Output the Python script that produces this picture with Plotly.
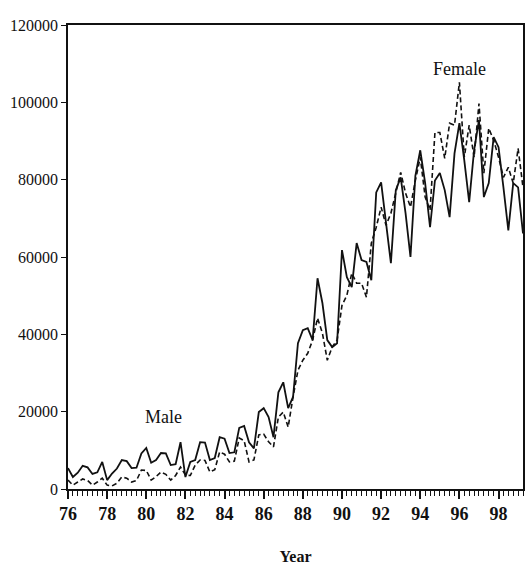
import plotly.graph_objects as go

# Quarterly series, 1976Q1 .. 1999Q2
start_year = 76
male = [
    5400, 3100, 4200, 6000,      # 76
    5600, 3900, 4300, 7000,      # 77
    2300, 4000, 5300, 7500,      # 78
    7200, 5400, 5500, 9200,      # 79
    10600, 6800, 7500, 9300,     # 80
    9200, 6200, 6400, 12100,     # 81
    3100, 7000, 7500, 12100,     # 82
    12000, 7500, 8000, 13400,    # 83
    13000, 9300, 9500, 15800,    # 84
    16300, 12100, 10500, 19900,  # 85
    20900, 18600, 13400, 25000,  # 86
    27600, 20900, 23800, 37700,  # 87
    41100, 41600, 38500, 54500,  # 88
    48100, 38500, 36700, 37700,  # 89
    61800, 54800, 52200, 63600,  # 90
    59200, 58700, 54000, 76700,  # 91
    79300, 68000, 58400, 77300,  # 92
    80600, 71300, 60000, 81000,  # 93
    87600, 79100, 67700, 79800,  # 94
    81700, 77300, 70300, 86800,  # 95
    94600, 85000, 74200, 87600,  # 96
    95400, 75500, 79100, 91000,  # 97
    88400, 78000, 66900, 79100,  # 98
    78000, 66100,                # 99
]
female = [
    2300, 1000, 1800, 2600,      # 76
    2200, 1000, 1800, 2800,      # 77
    1000, 800, 1500, 3100,       # 78
    2800, 1800, 2200, 4900,      # 79
    4800, 2300, 3200, 4400,      # 80
    3800, 2300, 3500, 5700,      # 81
    3600, 3500, 6200, 7500,      # 82
    7400, 4400, 5000, 9600,      # 83
    9000, 7000, 7200, 13200,     # 84
    12500, 7000, 7500, 14000,    # 85
    14200, 12200, 10900, 18600,  # 86
    19900, 16000, 23800, 30700,  # 87
    33300, 35100, 38500, 44200,  # 88
    40300, 33300, 36700, 38500,  # 89
    47500, 50100, 55800, 53200,  # 90
    53200, 49600, 63600, 67700,  # 91
    72900, 68200, 71300, 76500,  # 92
    81900, 76500, 72900, 79800,  # 93
    85800, 75500, 72100, 92200,  # 94
    92200, 85500, 94600, 94100,  # 95
    105200, 85800, 94100, 85800, # 96
    99700, 81700, 93300, 90200,  # 97
    85800, 80600, 83200, 79100,  # 98
    88100, 78000,                # 99
]
t = [start_year + i / 4 for i in range(len(male))]

year_ticks = list(range(76, 99, 2))
year_labels = [str(y) for y in year_ticks]
y_ticks = [0, 20000, 40000, 60000, 80000, 100000, 120000]

FONT = "Liberation Serif"

fig = go.Figure()
fig.add_trace(go.Scatter(x=t, y=male, mode="lines", name="Male",
                         line=dict(color="#111", width=1.8)))
fig.add_trace(go.Scatter(x=t, y=female, mode="lines", name="Female",
                         line=dict(color="#111", width=1.6, dash="5px,3px")))

fig.add_annotation(x=80.9, y=18500, text="Male", showarrow=False,
                   font=dict(family=FONT, size=18, color="#111"))
fig.add_annotation(x=96.0, y=108500, text="Female", showarrow=False,
                   font=dict(family=FONT, size=18, color="#111"))

fig.update_layout(
    width=526, height=565,
    margin=dict(l=68, r=1, t=25, b=76),
    paper_bgcolor="white", plot_bgcolor="white",
    showlegend=False,
    font=dict(family=FONT, color="#111"),
    xaxis=dict(
        range=[76, 99.25], tickvals=year_ticks, ticktext=year_labels,
        ticks="outside", ticklen=8, tickwidth=1.5, tickcolor="#111",
        minor=dict(dtick=0.25, tick0=76, ticks="outside", ticklen=5,
                   tickwidth=1, tickcolor="#111"),
        showline=True, linecolor="#111", linewidth=1.5, mirror=True,
        showgrid=False, zeroline=False,
        tickfont=dict(family=FONT, size=18, color="#111", weight="bold"),
        title=dict(text="Year", standoff=28,
                   font=dict(family=FONT, size=16, color="#111", weight="bold")),
    ),
    yaxis=dict(
        range=[0, 120000], tickvals=y_ticks, ticktext=[str(v) for v in y_ticks],
        ticks="outside", ticklen=5, tickwidth=1.2, tickcolor="#111",
        showline=True, linecolor="#111", linewidth=1.5, mirror=True,
        showgrid=False, zeroline=False,
        tickfont=dict(family=FONT, size=16, color="#111"),
    ),
)

fig.write_html("out.html")
